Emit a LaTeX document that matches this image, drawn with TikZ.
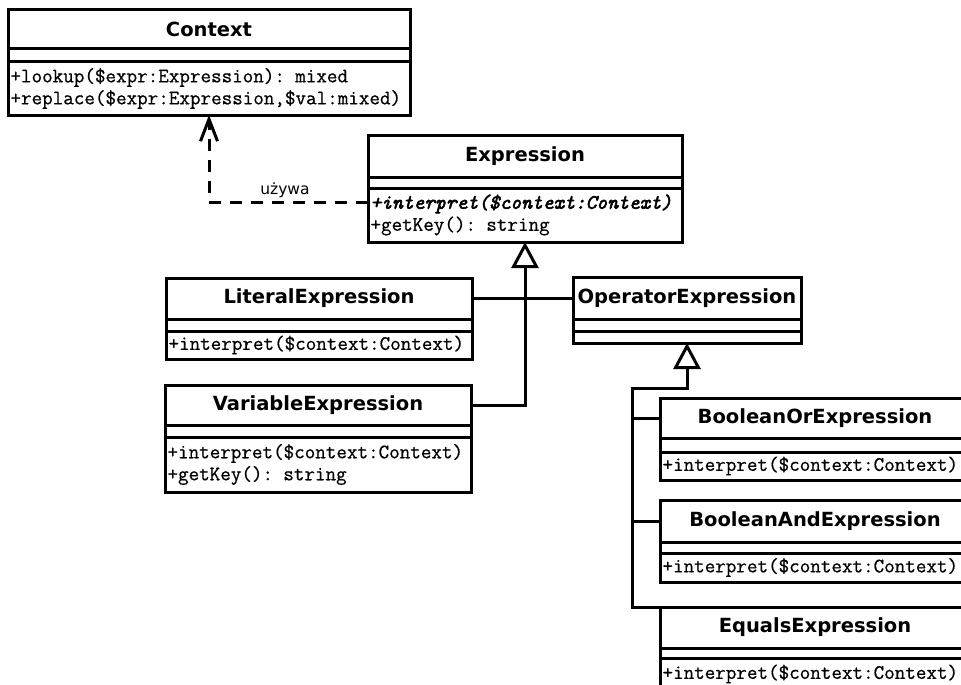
\documentclass[tikz,border=0pt]{standalone}
\usepackage{fontspec}
\newfontfamily\titlefont{DejaVu Sans}
\newfontfamily\labelfont{DejaVu Sans}
\newfontfamily\methfont{Latin Modern Mono}[FakeBold=0.7]
\newfontfamily\methbifont{Latin Modern Mono}[FakeBold=2.6]
\usetikzlibrary{arrows.meta}
\tikzset{
  box/.style={draw, line width=3pt, fill=white, inner sep=0pt, outer sep=0pt, anchor=north west},
  ctitle/.style={box, font=\titlefont\bfseries\fontsize{19.5}{22}\selectfont},
  cattr/.style={box},
  cmeth/.style={box, inner xsep=2.5pt, inner ysep=0pt, align=left, font=\methfont\fontsize{20.5}{22}\selectfont},
  conn/.style={line width=3pt},
  gen/.style={conn, -{Triangle[open, length=26pt, width=27pt]}},
  dep/.style={conn, dash pattern=on 12pt off 9pt, -{Straight Barb[length=22pt, width=17pt]}},
  lbl/.style={font=\labelfont\fontsize{15.5}{18}\selectfont, inner sep=0pt},
}
% #1 name, #2 x, #3 y, #4 width, #5 title h, #6 attr h, #7 method h, #8 title, #9 methods
\newcommand\umlclass[9]{%
  \pgfmathsetmacro\umltw{#4-5}%
  \node[ctitle, minimum width=#4pt, minimum height=#5pt] (#1) at (#2,#3) {#8};
  \node[cattr, minimum width=#4pt, minimum height=#6pt] (#1a) at (#1.south west) {};
  \node[cmeth, minimum width=#4pt, text width=\umltw pt, minimum height=#7pt] (#1m) at (#1a.south west) {#9};
}
\begin{document}
\begin{tikzpicture}[x=1pt, y=-1pt]
\useasboundingbox (0,0) rectangle (961,685);
\clip (0,0) rectangle (961,685);
\fill[white] (0,0) rectangle (961,685);

\umlclass{ctx}{8}{10}{402}{39}{13}{53}{Context}{+lookup(\$expr:Expression): mixed\\+replace(\$expr:Expression,\$val:mixed)}
\umlclass{exp}{368}{135}{314}{42}{11}{54}{Expression}{{\methbifont\itshape +interpret(\$context:Context)}\\+getKey(): string}
\umlclass{lit}{166}{278}{306}{41}{12}{28}{LiteralExpression}{+interpret(\$context:Context)}
\umlclass{var}{165}{385}{306}{40}{12}{55}{VariableExpression}{+interpret(\$context:Context)\\+getKey(): string}
\umlclass{op}{573}{277}{228}{42}{12}{12}{OperatorExpression}{}
\umlclass{bor}{660}{398}{310}{40}{14}{28}{BooleanOrExpression}{+interpret(\$context:Context)}
\umlclass{band}{660}{500}{310}{42}{11}{29}{BooleanAndExpression}{+interpret(\$context:Context)}
\umlclass{eq}{660}{607}{310}{41}{10}{32}{EqualsExpression}{+interpret(\$context:Context)}

% dependency
\draw[dep] ([yshift=13pt]expm.west) -| (ctxm.south);
\node[lbl] (uses) at (285,190) {używa};

% generalization to Expression
\draw[conn] (lit.east) -- (lit.east -| op.west);
\draw[gen] (var.east) -| (expm.south);

% generalization to OperatorExpression
\coordinate (trunk) at (632,388);
\draw[gen] (eq.north west) -| (trunk) -| (opm.south);
\draw[conn] (bor.west) -- (bor.west -| trunk);
\draw[conn] (band.west) -- (band.west -| trunk);
\end{tikzpicture}
\end{document}
